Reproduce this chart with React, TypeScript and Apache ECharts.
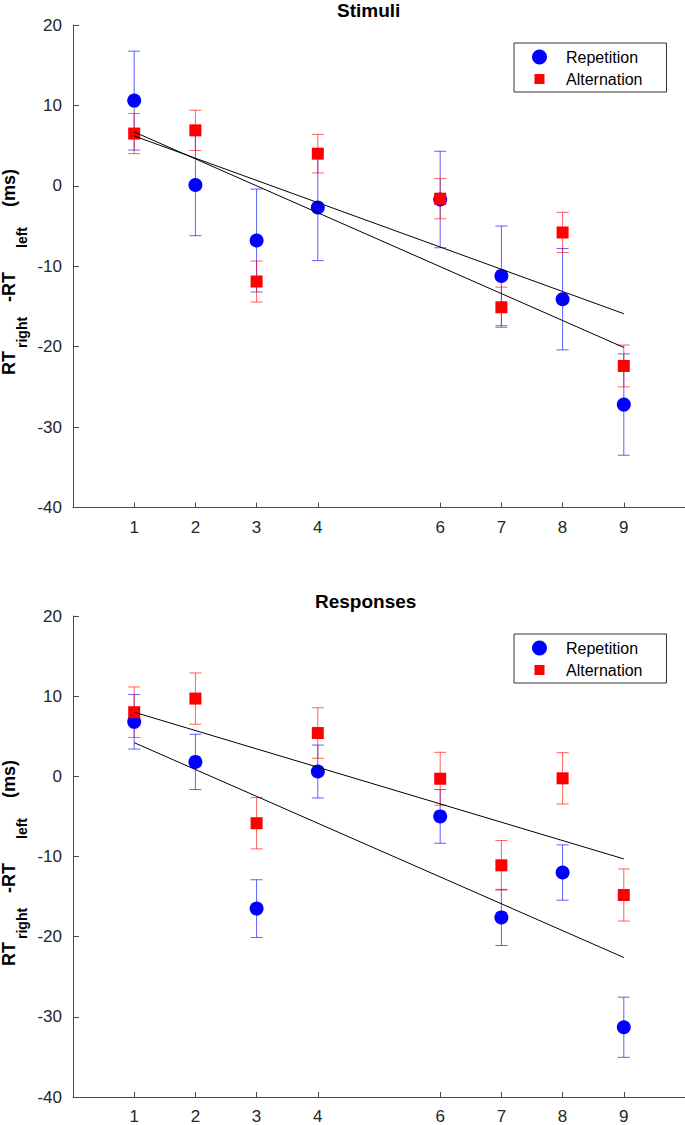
import React, { useEffect, useRef } from "react";
import * as echarts from "echarts";

// ---------- data ----------
const X_POS = [1, 2, 3, 4, 6, 7, 8, 9];
const X_TICKS = [1, 2, 3, 4, 6, 7, 8, 9];

// Stimuli panel
const STIM_REP_MEAN = [10.6, 0.1, -6.8, -2.7, -1.7, -11.2, -14.1, -27.2];
const STIM_REP_ERR = [6.15, 6.3, 6.4, 6.6, 6.0, 6.2, 6.3, 6.3];
const STIM_ALT_MEAN = [6.5, 6.9, -11.9, 4.0, -1.6, -15.1, -5.8, -22.4];
const STIM_ALT_ERR = [2.5, 2.5, 2.55, 2.4, 2.5, 2.5, 2.5, 2.6];
const STIM_REP_FIT = [6.7, -20.1]; // at x = 1 and x = 9
const STIM_ALT_FIT = [6.2, -15.9];

// Responses panel
const RESP_REP_MEAN = [6.8, 1.8, -16.5, 0.6, -5.0, -17.6, -12.0, -31.3];
const RESP_REP_ERR = [3.4, 3.45, 3.6, 3.3, 3.35, 3.5, 3.45, 3.75];
const RESP_ALT_MEAN = [8.0, 9.7, -5.85, 5.4, -0.3, -11.1, -0.25, -14.8];
const RESP_ALT_ERR = [3.15, 3.2, 3.2, 3.15, 3.3, 3.1, 3.2, 3.25];
const RESP_REP_FIT = [4.2, -22.6];
const RESP_ALT_FIT = [8.0, -10.3];

const FIT_X = [1, 9];
const TITLES = ["Stimuli", "Responses"];
const LEGEND_NAMES = ["Repetition", "Alternation"];

const FONT = "'Liberation Sans', Arial, Helvetica, sans-serif";
const BLUE = "#0000ff";
const RED = "#ff0000";
const BLUE_BAR = "rgba(0,0,255,0.62)";
const RED_BAR = "rgba(255,0,0,0.62)";
const AXIS_COLOR = "#4a4a4a";
const LABEL_COLOR = "#262626";

const SQUARE_ICON =
  "path://M0,0h0.1v0.1h-0.1z M2.5,2.5h10v10h-10z M14.9,14.9h0.1v0.1h-0.1z";

function errorBarSeries(name, gi, means, errs, color) {
  return {
    type: "custom",
    name,
    xAxisIndex: gi,
    yAxisIndex: gi,
    encode: { x: 0, y: 1 },
    data: X_POS.map((x, i) => [x, means[i], errs[i]]),
    renderItem: (params, api) => {
      const x = api.value(0);
      const y = api.value(1);
      const e = api.value(2);
      const hi = api.coord([x, y + e]);
      const lo = api.coord([x, y - e]);
      const hw = 6;
      const style = { stroke: color, lineWidth: 1, fill: null };
      return {
        type: "group",
        children: [
          { type: "line", shape: { x1: hi[0], y1: hi[1], x2: lo[0], y2: lo[1] }, style },
          { type: "line", shape: { x1: hi[0] - hw, y1: hi[1], x2: hi[0] + hw, y2: hi[1] }, style },
          { type: "line", shape: { x1: lo[0] - hw, y1: lo[1], x2: lo[0] + hw, y2: lo[1] }, style },
        ],
      };
    },
    silent: true,
  };
}

function scatterSeries(name, gi, means, symbol, size, color) {
  return {
    type: "scatter",
    name,
    xAxisIndex: gi,
    yAxisIndex: gi,
    symbol,
    symbolSize: size,
    itemStyle: { color, opacity: 1 },
    data: X_POS.map((x, i) => [x, means[i]]),
    silent: true,
  };
}

function fitSeries(name, gi, fit) {
  return {
    type: "line",
    name,
    xAxisIndex: gi,
    yAxisIndex: gi,
    symbol: "none",
    lineStyle: { color: "#000", width: 1 },
    data: FIT_X.map((x, i) => [x, fit[i]]),
    z: 5,
    silent: true,
  };
}

function yLabel(y0) {
  const main = { fontSize: 18, fontWeight: "bold", fontFamily: FONT, fill: "#000", verticalAlign: "middle", align: "left" };
  const sub = { fontSize: 14, fontWeight: "bold", fontFamily: FONT, fill: "#000", verticalAlign: "middle", align: "left" };
  return {
    type: "group",
    x: 0,
    y: y0,
    rotation: Math.PI / 2,
    children: [
      { type: "text", x: 0, y: 9, style: { ...main, text: "RT" } },
      { type: "text", x: 27, y: 22, style: { ...sub, text: "right" } },
      { type: "text", x: 73, y: 9, style: { ...main, text: "-RT" } },
      { type: "text", x: 127, y: 22, style: { ...sub, text: "left" } },
      { type: "text", x: 168, y: 9, style: { ...main, text: "(ms)" } },
    ],
  };
}

function makeAxes(gi) {
  const xAxis = {
    type: "value",
    gridIndex: gi,
    min: 0,
    max: 10,
    interval: 1,
    axisLine: { onZero: false, lineStyle: { color: AXIS_COLOR, width: 1 } },
    axisTick: { inside: true, length: 5, customValues: X_TICKS, lineStyle: { color: AXIS_COLOR } },
    axisLabel: {
      customValues: X_TICKS,
      fontSize: 17,
      fontFamily: FONT,
      color: LABEL_COLOR,
      margin: 11,
    },
    splitLine: { show: false },
  };
  const yAxis = {
    type: "value",
    gridIndex: gi,
    min: -40,
    max: 20,
    interval: 10,
    axisLine: { show: true, onZero: false, lineStyle: { color: AXIS_COLOR, width: 1 } },
    axisTick: { show: true, inside: true, length: 6, lineStyle: { color: AXIS_COLOR } },
    axisLabel: { fontSize: 17, fontFamily: FONT, color: LABEL_COLOR, margin: 11 },
    splitLine: { show: false },
  };
  return { xAxis, yAxis };
}

function legendFor(top) {
  return {
    left: 514,
    top,
    orient: "vertical",
    selectedMode: false,
    borderColor: "#333",
    borderWidth: 1,
    borderRadius: 0,
    backgroundColor: "#fff",
    padding: [6, 24, 5, 18],
    itemGap: 6,
    itemWidth: 15,
    itemHeight: 15,
    textStyle: { fontSize: 16, fontFamily: FONT, color: "#000", padding: [0, 0, 0, 14] },
    data: [
      { name: LEGEND_NAMES[0], icon: "circle" },
      { name: LEGEND_NAMES[1], icon: SQUARE_ICON },
    ],
  };
}

export default function App() {
  const ref = useRef(null);
  useEffect(() => {
    if (!ref.current) return;
    const chart = echarts.init(ref.current, null, { renderer: "svg" });
    const a0 = makeAxes(0);
    const a1 = makeAxes(1);
    const option = {
      animation: false,
      backgroundColor: "#fff",
      title: [
        { text: TITLES[0], left: 337, top: 1, padding: 0, textStyle: { fontSize: 19, fontWeight: "bold", fontFamily: FONT, color: "#000" } },
        { text: TITLES[1], left: 315, top: 592, padding: 0, textStyle: { fontSize: 19, fontWeight: "bold", fontFamily: FONT, color: "#000" } },
      ],
      legend: [legendFor(43), legendFor(634)],
      grid: [
        { left: 73, top: 25, width: 612, height: 482.5 },
        { left: 73, top: 616, width: 612, height: 482.5 },
      ],
      xAxis: [a0.xAxis, a1.xAxis],
      yAxis: [a0.yAxis, a1.yAxis],
      graphic: [yLabel(375), yLabel(966)],
      series: [
        errorBarSeries("Repetition SE stim", 0, STIM_REP_MEAN, STIM_REP_ERR, BLUE_BAR),
        scatterSeries(LEGEND_NAMES[0], 0, STIM_REP_MEAN, "circle", 14, BLUE),
        errorBarSeries("Alternation SE stim", 0, STIM_ALT_MEAN, STIM_ALT_ERR, RED_BAR),
        scatterSeries(LEGEND_NAMES[1], 0, STIM_ALT_MEAN, "rect", 12, RED),
        fitSeries("Repetition fit stim", 0, STIM_REP_FIT),
        fitSeries("Alternation fit stim", 0, STIM_ALT_FIT),
        errorBarSeries("Repetition SE resp", 1, RESP_REP_MEAN, RESP_REP_ERR, BLUE_BAR),
        scatterSeries(LEGEND_NAMES[0], 1, RESP_REP_MEAN, "circle", 14, BLUE),
        errorBarSeries("Alternation SE resp", 1, RESP_ALT_MEAN, RESP_ALT_ERR, RED_BAR),
        scatterSeries(LEGEND_NAMES[1], 1, RESP_ALT_MEAN, "rect", 12, RED),
        fitSeries("Repetition fit resp", 1, RESP_REP_FIT),
        fitSeries("Alternation fit resp", 1, RESP_ALT_FIT),
      ],
    };
    chart.setOption(option);
    return () => chart.dispose();
  }, []);
  return (
    <div
      ref={ref}
      style={{ position: "absolute", left: 0, top: 0, width: 685, height: 1125, background: "#fff" }}
    />
  );
}
